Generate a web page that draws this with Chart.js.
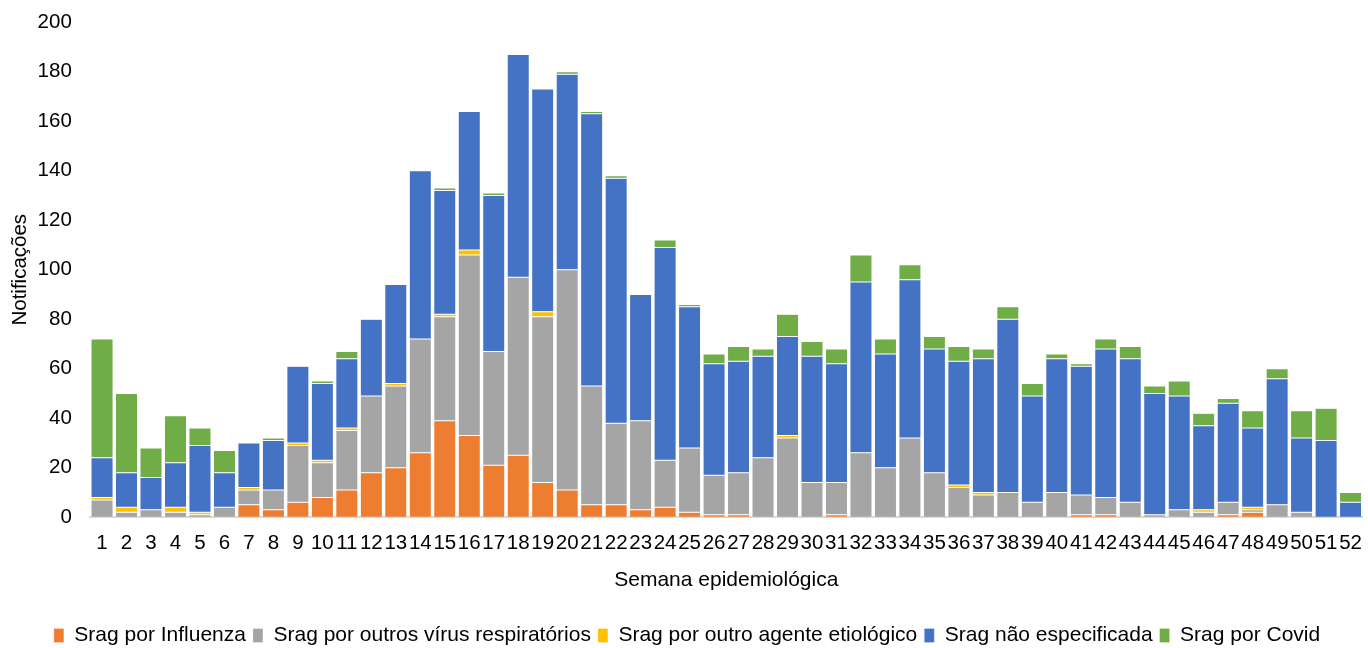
<!DOCTYPE html>
<html>
<head>
<meta charset="utf-8">
<script src="https://cdn.jsdelivr.net/npm/chart.js@4"></script>
<style>
  html, body { margin: 0; padding: 0; background: #fff; }
  #wrap { width: 1368px; height: 648px; }
</style>
</head>
<body>
<div id="wrap"><canvas id="sragChart"></canvas></div>
<script>
// semanas epidemiológicas 1..52
const weeks = Array.from({ length: 52 }, (_, i) => String(i + 1));

const influenza = [0, 0, 0, 0, 0, 0, 5, 3, 6, 8, 11, 18, 20, 26, 39, 33, 21, 25, 14, 11, 5, 5, 3, 4, 2, 1,
    1, 0, 0, 0, 1, 0, 0, 0, 0, 0, 0, 0, 0, 0, 1, 1, 0, 0, 0, 0, 1, 2, 0, 0, 0, 0];
const outrosVirus = [7, 2, 3, 2, 1, 4, 6, 8, 23, 14, 24, 31, 33, 46, 42, 73, 46, 72, 67, 89, 48, 33, 36, 19, 26, 16,
    17, 24, 32, 14, 13, 26, 20, 32, 18, 12, 9, 10, 6, 10, 8, 7, 6, 1, 3, 2, 5, 1, 5, 2, 0, 0];
const outroAgente = [1, 2, 0, 2, 1, 0, 1, 0, 1, 1, 1, 0, 1, 0, 1, 2, 0, 0, 2, 0, 0, 0, 0, 0, 0, 0,
    0, 0, 1, 0, 0, 0, 0, 0, 0, 1, 1, 0, 0, 0, 0, 0, 0, 0, 0, 1, 0, 1, 0, 0, 0, 0];
const naoEspecificada = [16, 14, 13, 18, 27, 14, 18, 20, 31, 31, 28, 31, 40, 68, 50, 56, 63, 90, 90, 79, 110, 99, 51, 86, 57, 45,
    45, 41, 40, 51, 48, 69, 46, 64, 50, 50, 54, 70, 43, 54, 52, 60, 58, 49, 46, 34, 40, 32, 51, 30, 31, 6];
const covid = [48, 32, 12, 19, 7, 9, 0, 1, 0, 1, 3, 0, 0, 0, 1, 0, 1, 0, 0, 1, 1, 1, 0, 3, 1, 4,
    6, 3, 9, 6, 6, 11, 6, 6, 5, 6, 4, 5, 5, 2, 1, 4, 5, 3, 6, 5, 2, 7, 4, 11, 13, 4];

const yTicks = [0, 20, 40, 60, 80, 100, 120, 140, 160, 180, 200];

const font = 'Liberation Sans, Arial, sans-serif';
const ctx = document.getElementById('sragChart').getContext('2d');

function serie(label, data, color) {
    return {
        label: label,
        data: data,
        backgroundColor: color,
        borderColor: 'rgba(255, 255, 255, 0.55)',
        borderWidth: 0.5,
        borderSkipped: false,
        barPercentage: 0.9,
        categoryPercentage: 1.0
    };
}

new Chart(ctx, {
    type: 'bar',
    data: {
        labels: weeks,
        datasets: [
            serie('Srag por Influenza', influenza, '#ED7D31'),
            serie('Srag por outros vírus respiratórios', outrosVirus, '#A5A5A5'),
            serie('Srag por outro agente etiológico', outroAgente, '#FFC000'),
            serie('Srag não especificada', naoEspecificada, '#4472C4'),
            serie('Srag por Covid', covid, '#70AD47')
        ]
    },
    options: {
        responsive: true,
        maintainAspectRatio: false,
        animation: false,
        layout: { padding: { top: -12, right: 2, left: 8, bottom: -8 } },
        plugins: {
            legend: {
                position: 'bottom',
                labels: {
                    color: '#000',
                    boxWidth: 10,
                    boxHeight: 14,
                    padding: 7,
                    font: { family: font, size: 21 }
                }
            },
            tooltip: { enabled: false }
        },
        scales: {
            x: {
                stacked: true,
                grid: { display: false },
                border: { color: '#D9D9D9', width: 2 },
                ticks: {
                    color: '#000',
                    autoSkip: false,
                    maxRotation: 0,
                    padding: 6,
                    font: { family: font, size: 20.5 }
                },
                title: {
                    display: true,
                    text: 'Semana epidemiológica',
                    color: '#000',
                    padding: { top: 6, bottom: 25 },
                    font: { family: font, size: 21 }
                }
            },
            y: {
                stacked: true,
                min: 0,
                max: 200,
                grid: { display: false },
                border: { display: false },
                afterBuildTicks: axis => { axis.ticks = yTicks.map(v => ({ value: v })); },
                ticks: {
                    color: '#000',
                    padding: 10,
                    font: { family: font, size: 20.5 }
                },
                title: {
                    display: true,
                    text: 'Notificações',
                    color: '#000',
                    padding: { top: 0, bottom: -5 },
                    font: { family: font, size: 20.5 }
                }
            }
        }
    }
});
</script>
</body>
</html>
